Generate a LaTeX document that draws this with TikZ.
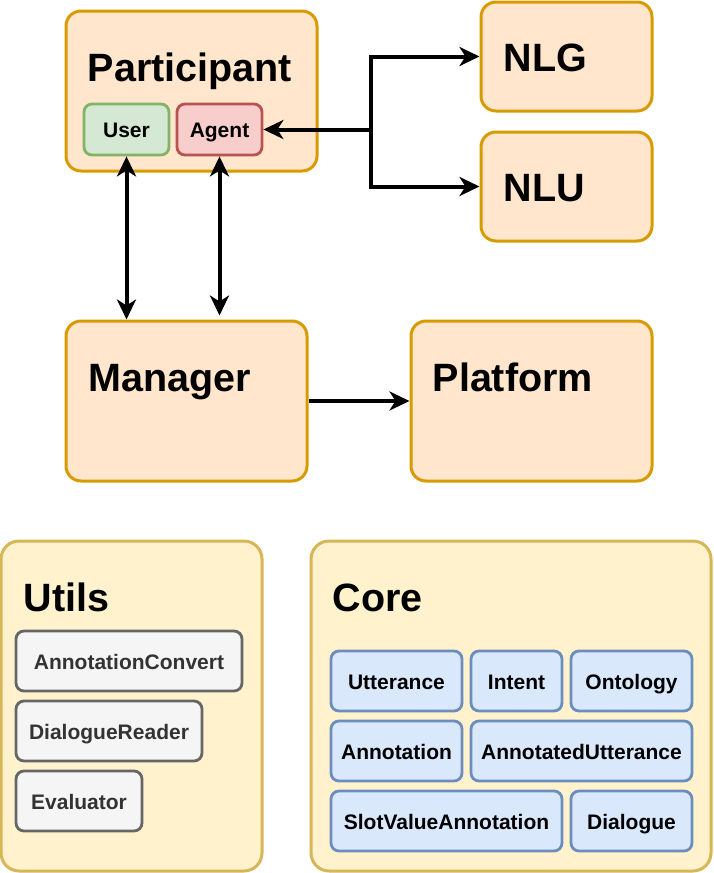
\documentclass[tikz,border=0pt]{standalone}
\usepackage{fontspec}
\setmainfont{Liberation Sans}
\usetikzlibrary{positioning,arrows.meta}
\definecolor{orgfill}{HTML}{FFE6CC}\definecolor{orgline}{HTML}{D79B00}
\definecolor{ylwfill}{HTML}{FFF2CC}\definecolor{ylwline}{HTML}{D6B656}
\definecolor{grnfill}{HTML}{D5E8D4}\definecolor{grnline}{HTML}{82B366}
\definecolor{redfill}{HTML}{F8CECC}\definecolor{redline}{HTML}{B85450}
\definecolor{blufill}{HTML}{DAE8FC}\definecolor{bluline}{HTML}{6C8EBF}
\definecolor{gryfill}{HTML}{F5F5F5}\definecolor{gryline}{HTML}{666666}
\definecolor{grytext}{HTML}{333333}
\tikzset{bigbox/.style={rectangle,rounded corners=15pt,draw=orgline,fill=orgfill,line width=3pt,inner sep=0pt},
  pkgbox/.style={bigbox,rounded corners=18pt,draw=ylwline,fill=ylwfill},
  smallbox/.style={rectangle,rounded corners=8pt,line width=2.8pt,inner sep=0pt,minimum height=60pt,
    text height=16pt,text depth=0pt,font=\fontsize{21}{21}\selectfont\bfseries},
  userbox/.style={smallbox,minimum height=51pt,draw=grnline,fill=grnfill},
  agentbox/.style={smallbox,minimum height=51pt,draw=redline,fill=redfill},
  utilbox/.style={smallbox,draw=gryline,fill=gryfill,text=grytext},
  corebox/.style={smallbox,draw=bluline,fill=blufill},
  titletext/.style={anchor=base west,inner sep=0pt,font=\fontsize{39.5}{39.5}\selectfont\bfseries},
  conn/.style={-{Stealth[length=20pt,width=19pt,inset=6pt]},line width=4pt},
  dconn/.style={{Stealth[length=20pt,width=19pt,inset=6pt]}-{Stealth[length=20pt,width=19pt,inset=6pt]},line width=4pt}}

\begin{document}
\begin{tikzpicture}[x=1pt,y=-1pt]
	\useasboundingbox (0,0) rectangle (713,873);

	% top part
	\node[bigbox,minimum width=251pt,minimum height=160pt] (part) at (191.5,91) {};
	\node[titletext] (parttitle) at ([xshift=23pt,yshift=-72pt]part.north west) {Participant};
	\node[userbox,minimum width=85pt] (user) at (126.5,129.5) {User};
	\node[agentbox,minimum width=85pt] (agent) at (219.5,129.5) {Agent};

	\node[bigbox,minimum width=171pt,minimum height=109pt] (nlg) at (566.5,56.5) {};
	\node[titletext] (nlgtitle) at ([xshift=24pt,yshift=-71pt]nlg.north west) {NLG};
	\node[bigbox,minimum width=171pt,minimum height=109pt] (nlu) at (566.5,186.5) {};
	\node[titletext] (nlutitle) at ([xshift=24pt,yshift=-71pt]nlu.north west) {NLU};

	\node[bigbox,minimum width=241pt,minimum height=160pt] (mgr) at (186.5,401) {};
	\node[titletext] (mgrtitle) at ([xshift=24pt,yshift=-72pt]mgr.north west) {Manager};
	\node[bigbox,minimum width=241pt,minimum height=160pt] (plat) at (531.5,401) {};
	\node[titletext] (plattitle) at ([xshift=23pt,yshift=-72pt]plat.north west) {Platform};

	% connectors
	\coordinate (junc) at (371,129.5);
	\draw[conn] (junc) -- (agent);
	\draw[conn] (junc) |- (nlg.west);
	\draw[conn] (junc) |- (nlu.west);
	\draw[dconn] (user.south) -- (user.south |- mgr.north);
	\draw[dconn] (agent.south) -- ([yshift=4pt]agent.south |- mgr.north);
	\draw[conn] (mgr.east) -- (plat.west);

	% packages
	\node[pkgbox,minimum width=261pt,minimum height=330pt] (utils) at (131.5,706) {};
	\node[titletext] (utilstitle) at ([xshift=24pt,yshift=-72pt]utils.north west) {Utils};
	\node[utilbox,minimum width=226pt] (anconv) at (129,661) {AnnotationConvert};
	\node[utilbox,minimum width=186pt] (dreader) at (109,731) {DialogueReader};
	\node[utilbox,minimum width=126pt] (evalr) at (79,801) {Evaluator};

	\node[pkgbox,minimum width=400pt,minimum height=330pt] (core) at (511,706) {};
	\node[titletext] (coretitle) at ([xshift=23pt,yshift=-72pt]core.north west) {Core};
	\node[corebox,minimum width=131pt] (utt) at (396.5,681) {Utterance};
	\node[corebox,minimum width=91pt] (intent) at (516.5,681) {Intent};
	\node[corebox,minimum width=121pt] (onto) at (631.5,681) {Ontology};
	\node[corebox,minimum width=131pt] (annot) at (396.5,751) {Annotation};
	\node[corebox,minimum width=221pt] (autt) at (581.5,751) {AnnotatedUtterance};
	\node[corebox,minimum width=231pt] (svannot) at (446.5,821) {SlotValueAnnotation};
	\node[corebox,minimum width=121pt] (dial) at (631.5,821) {Dialogue};
\end{tikzpicture}
\end{document}
